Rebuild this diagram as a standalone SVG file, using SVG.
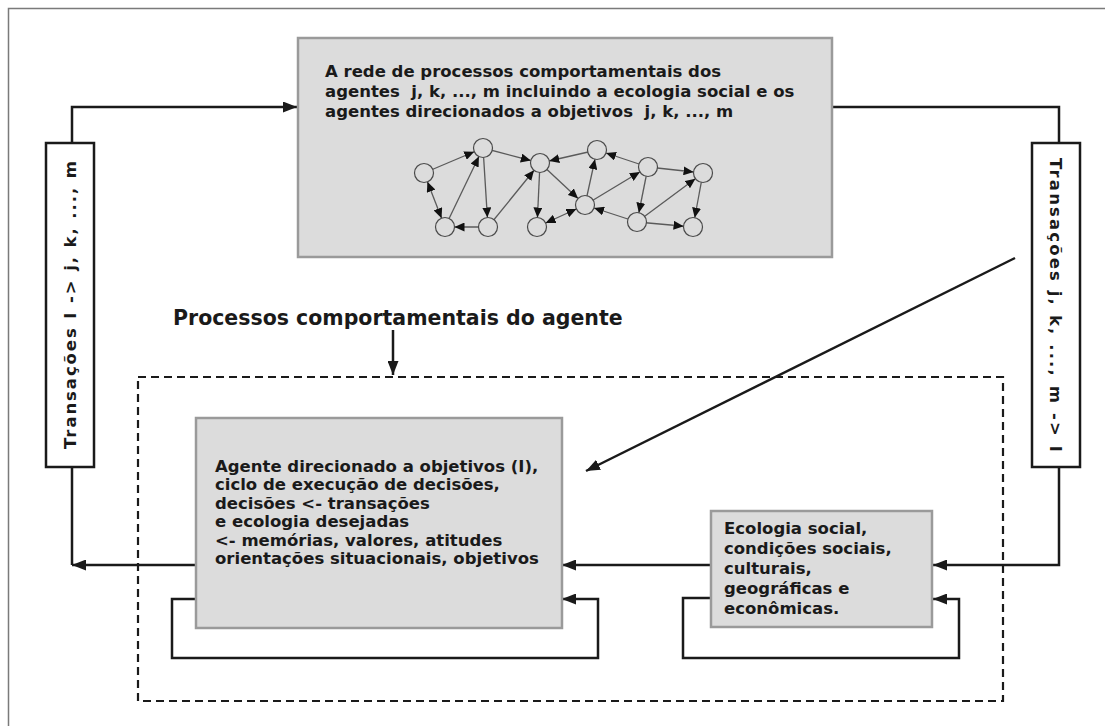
<svg xmlns="http://www.w3.org/2000/svg" width="1105" height="726" viewBox="0 0 1105 726">
  <style>
    .box { fill: #dcdcdc; stroke: #9a9a9a; stroke-width: 2.5; }
    .tbox { fill: #ffffff; stroke: #1a1a1a; stroke-width: 2.5; }
    .lbl { font-family: "DejaVu Sans", Verdana, sans-serif; font-weight: bold; font-size: 16.5px; fill: #1a1a1a; }
    .title { font-family: "DejaVu Sans", Verdana, sans-serif; font-weight: bold; font-size: 20.5px; fill: #1a1a1a; }
    .wire { fill: none; stroke: #1a1a1a; stroke-width: 2.5; }
    .edge { fill: none; stroke: #5a5a5a; stroke-width: 1.3; }
    .node { fill: #dcdcdc; stroke: #4a4a4a; stroke-width: 1.2; }
  </style>
  <defs>
    <marker id="head" viewBox="0 0 14 11" markerUnits="userSpaceOnUse" markerWidth="14" markerHeight="11" refX="14" refY="5.5" orient="auto">
      <path d="M0,0 L14,5.5 L0,11 z" fill="#1a1a1a"/>
    </marker>
    <marker id="nhead" viewBox="0 0 10 9" markerUnits="userSpaceOnUse" markerWidth="10" markerHeight="9" refX="19.5" refY="4.5" orient="auto-start-reverse">
      <path d="M0,0 L10,4.5 L0,9 z" fill="#111111"/>
    </marker>
  </defs>

  <rect width="1105" height="726" fill="#ffffff"/>
  <!-- outer frame -->
  <rect x="8.5" y="8.5" width="1110" height="730" fill="none" stroke="#7a7a7a" stroke-width="1.5"/>

  <!-- dashed boundary of the agent's behavioural processes -->
  <rect id="agent-processes" x="138" y="377" width="865" height="324" fill="none" stroke="#1a1a1a" stroke-width="2.2" stroke-dasharray="8 5"/>

  <g id="connectors">
    <path class="wire" d="M72,143 V107 H297" marker-end="url(#head)"/>
    <path class="wire" d="M72,467 V565"/>
    <path class="wire" d="M196,565 H72" marker-end="url(#head)"/>
    <path class="wire" d="M832,107 H1059 V143"/>
    <path class="wire" d="M1059,467 V565 H933" marker-end="url(#head)"/>
    <path class="wire" d="M711,565 H562" marker-end="url(#head)"/>
    <path class="wire" d="M196,599 H172 V658 H598 V599 H562" marker-end="url(#head)"/>
    <path class="wire" d="M711,598 H683 V658 H959 V599 H933" marker-end="url(#head)"/>
    <path class="wire" d="M1015,258 L586,471" stroke-width="2" marker-end="url(#head)"/>
    <path class="wire" d="M393,330 V375" stroke-width="2" marker-end="url(#head)"/>
  </g>

  <g id="network">
    <rect class="box" x="298" y="38" width="534" height="219"/>
    <text class="lbl" x="325" y="76.5" xml:space="preserve">A rede de processos comportamentais dos</text>
    <text class="lbl" x="325" y="97" xml:space="preserve">agentes  j, k, ..., m incluindo a ecologia social e os</text>
    <text class="lbl" x="325" y="117" xml:space="preserve">agentes direcionados a objetivos  j, k, ..., m</text>
    <g id="network-graph">
      <line class="edge" x1="424" y1="173" x2="483" y2="148" marker-end="url(#nhead)"/>
      <line class="edge" x1="445" y1="227" x2="483" y2="148" marker-end="url(#nhead)"/>
      <line class="edge" x1="424" y1="173" x2="445" y2="227" marker-start="url(#nhead)" marker-end="url(#nhead)"/>
      <line class="edge" x1="483" y1="148" x2="488" y2="227" marker-end="url(#nhead)"/>
      <line class="edge" x1="488" y1="227" x2="445" y2="227" marker-end="url(#nhead)"/>
      <line class="edge" x1="483" y1="148" x2="540" y2="163" marker-end="url(#nhead)"/>
      <line class="edge" x1="488" y1="227" x2="540" y2="163" marker-end="url(#nhead)"/>
      <line class="edge" x1="540" y1="163" x2="537" y2="227" marker-end="url(#nhead)"/>
      <line class="edge" x1="540" y1="163" x2="585" y2="205" marker-end="url(#nhead)"/>
      <line class="edge" x1="537" y1="227" x2="585" y2="205" marker-start="url(#nhead)" marker-end="url(#nhead)"/>
      <line class="edge" x1="597" y1="150" x2="540" y2="163" marker-end="url(#nhead)"/>
      <line class="edge" x1="585" y1="205" x2="597" y2="150" marker-end="url(#nhead)"/>
      <line class="edge" x1="648" y1="167" x2="597" y2="150" marker-end="url(#nhead)"/>
      <line class="edge" x1="585" y1="205" x2="648" y2="167" marker-end="url(#nhead)"/>
      <line class="edge" x1="648" y1="167" x2="637" y2="222" marker-end="url(#nhead)"/>
      <line class="edge" x1="637" y1="222" x2="585" y2="205" marker-end="url(#nhead)"/>
      <line class="edge" x1="648" y1="167" x2="703" y2="173" marker-end="url(#nhead)"/>
      <line class="edge" x1="637" y1="222" x2="703" y2="173" marker-end="url(#nhead)"/>
      <line class="edge" x1="703" y1="173" x2="693" y2="227" marker-end="url(#nhead)"/>
      <line class="edge" x1="637" y1="222" x2="693" y2="227" marker-end="url(#nhead)"/>
      <circle class="node" cx="424" cy="173" r="9.5"/>
      <circle class="node" cx="483" cy="148" r="9.5"/>
      <circle class="node" cx="540" cy="163" r="9.5"/>
      <circle class="node" cx="597" cy="150" r="9.5"/>
      <circle class="node" cx="648" cy="167" r="9.5"/>
      <circle class="node" cx="703" cy="173" r="9.5"/>
      <circle class="node" cx="445" cy="227" r="9.5"/>
      <circle class="node" cx="488" cy="227" r="9.5"/>
      <circle class="node" cx="537" cy="227" r="9.5"/>
      <circle class="node" cx="585" cy="205" r="9.5"/>
      <circle class="node" cx="637" cy="222" r="9.5"/>
      <circle class="node" cx="693" cy="227" r="9.5"/>
    </g>
  </g>

  <g id="transactions-out">
    <rect class="tbox" x="46" y="143" width="48" height="324"/>
    <text class="lbl" transform="translate(76,305) rotate(-90)" text-anchor="middle" textLength="288" lengthAdjust="spacing">Transações I -&gt; j, k, ..., m</text>
  </g>

  <g id="transactions-in">
    <rect class="tbox" x="1032" y="143" width="48" height="324"/>
    <text class="lbl" transform="translate(1050,305) rotate(90)" text-anchor="middle" textLength="294" lengthAdjust="spacing">Transações  j, k, ..., m -&gt; I</text>
  </g>

  <g id="title">
    <text class="title" x="173" y="325">Processos comportamentais do agente</text>
  </g>

  <g id="agent">
    <rect class="box" x="196" y="418" width="366" height="210"/>
    <text class="lbl" x="215" y="472">Agente direcionado a objetivos (I),</text>
    <text class="lbl" x="215" y="490.4">ciclo de execução de decisões,</text>
    <text class="lbl" x="215" y="508.8">decisões &lt;- transações</text>
    <text class="lbl" x="215" y="527.2">e ecologia desejadas</text>
    <text class="lbl" x="215" y="545.6">&lt;- memórias, valores, atitudes</text>
    <text class="lbl" x="215" y="564">orientações situacionais, objetivos</text>
  </g>

  <g id="ecology">
    <rect class="box" x="711" y="511" width="221" height="116"/>
    <text class="lbl" x="724" y="533.5">Ecologia social,</text>
    <text class="lbl" x="724" y="553.5">condições sociais,</text>
    <text class="lbl" x="724" y="573.5">culturais,</text>
    <text class="lbl" x="724" y="593.5">geográficas e</text>
    <text class="lbl" x="724" y="613.5">econômicas.</text>
  </g>
</svg>
